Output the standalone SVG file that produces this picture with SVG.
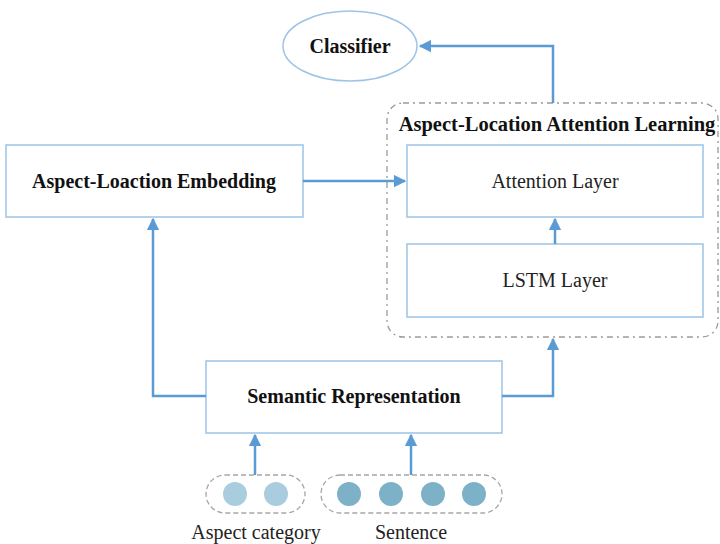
<svg xmlns="http://www.w3.org/2000/svg" width="720" height="544" viewBox="0 0 720 544">
  <defs>
    <marker id="arrow" viewBox="0 0 10 10" refX="9" refY="5" markerWidth="5" markerHeight="5.2" orient="auto" markerUnits="strokeWidth">
      <path d="M0,0 L10,5 L0,10 z" fill="#5b9bd5"/>
    </marker>
    <style>
      .box { fill: #ffffff; stroke: #9dc3e6; stroke-width: 1.5; }
      .group { fill: none; stroke: #9a9a9a; stroke-width: 1.3; stroke-dasharray: 6 4 2 4; }
      .pill { fill: none; stroke: #a6a6a6; stroke-width: 1.3; stroke-dasharray: 5 3; }
      .conn { fill: none; stroke: #5b9bd5; stroke-width: 2.5; marker-end: url(#arrow); }
      .bold { font-family: "Liberation Serif", "Times New Roman", serif; font-weight: bold; font-size: 20px; fill: #111; text-anchor: middle; }
      .reg { font-family: "Liberation Serif", "Times New Roman", serif; font-size: 20px; fill: #222; text-anchor: middle; }
      .light { fill: #a9cddf; }
      .dark { fill: #7db1c8; }
    </style>
  </defs>

  <g id="classifier">
    <ellipse cx="350" cy="46" rx="67" ry="35" class="box"/>
    <text x="350" y="53" class="bold">Classifier</text>
  </g>

  <g id="attention-learning">
    <rect x="387" y="103" width="331" height="234" rx="16" class="group"/>
    <text x="557" y="131" class="bold" style="font-size:20.5px">Aspect-Location Attention Learning</text>
  </g>

  <g id="attention-layer">
    <rect x="407" y="145" width="296" height="72" class="box"/>
    <text x="555" y="188" class="reg">Attention Layer</text>
  </g>

  <g id="lstm-layer">
    <rect x="407" y="244" width="296" height="73" class="box"/>
    <text x="555" y="287" class="reg">LSTM Layer</text>
  </g>

  <g id="embedding">
    <rect x="6" y="145" width="297" height="72" class="box"/>
    <text x="154" y="188" class="bold">Aspect-Loaction Embedding</text>
  </g>

  <g id="semantic">
    <rect x="206" y="361" width="296" height="72" class="box"/>
    <text x="354" y="403" class="bold">Semantic Representation</text>
  </g>

  <g id="aspect-category">
    <rect x="206" y="475" width="99" height="38" rx="19" class="pill"/>
    <circle cx="235" cy="494" r="12" class="light"/>
    <circle cx="276" cy="494" r="12" class="light"/>
    <text x="256" y="539" class="reg">Aspect category</text>
  </g>

  <g id="sentence">
    <rect x="321" y="475" width="181" height="38" rx="19" class="pill"/>
    <circle cx="349" cy="494" r="12" class="dark"/>
    <circle cx="391" cy="494" r="12" class="dark"/>
    <circle cx="433" cy="494" r="12" class="dark"/>
    <circle cx="474" cy="494" r="12" class="dark"/>
    <text x="411" y="539" class="reg">Sentence</text>
  </g>

  <g id="connectors">
    <path d="M553,103 V46 H420" class="conn"/>
    <path d="M555,244 V219" class="conn"/>
    <path d="M303,181 H405" class="conn"/>
    <path d="M206,396 H153 V219" class="conn"/>
    <path d="M502,396 H553 V339" class="conn"/>
    <path d="M255,475 V435" class="conn"/>
    <path d="M411,475 V435" class="conn"/>
  </g>
</svg>
